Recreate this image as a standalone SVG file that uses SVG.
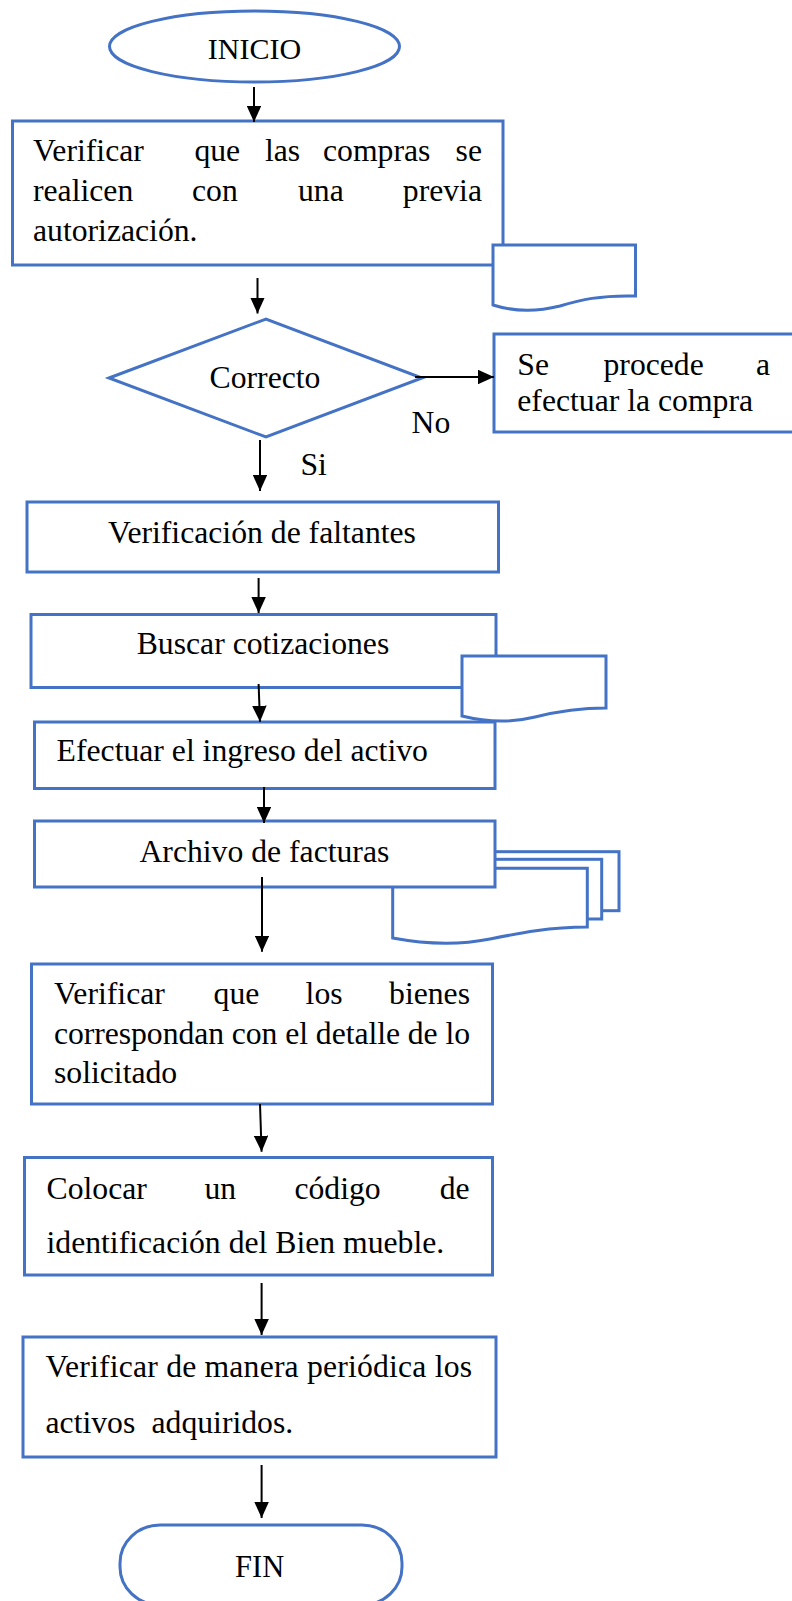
<svg xmlns="http://www.w3.org/2000/svg" width="792" height="1601" viewBox="0 0 792 1601">
<style>
.shape{fill:#fff;stroke:#4472C4;stroke-width:3}
.t{font-family:"Liberation Serif","Times New Roman",serif;font-size:31.7px;fill:#000}
.c{text-anchor:middle}
.e{text-anchor:end}
.conn line{stroke:#000;stroke-width:2}
</style>
<defs>
<marker id="arr" viewBox="0 0 16 14.5" refX="16" refY="7.25" markerWidth="16" markerHeight="14.5" markerUnits="userSpaceOnUse" orient="auto">
<path d="M0,0 L16,7.25 L0,14.5 Z" fill="#000"/>
</marker>
</defs>
<rect width="792" height="1601" fill="#fff"/>

<g id="inicio">
<ellipse class="shape" cx="254.5" cy="46.5" rx="145" ry="35.5"/>
<text class="t c" x="254.5" y="59" style="font-size:30px">INICIO</text>
</g>

<g id="verificar-compras">
<rect class="shape" x="12.5" y="121" width="490.5" height="144"/>
<text class="t" x="33" y="161">Verificar</text>
<text class="t" x="194.4" y="161">que</text>
<text class="t" x="265" y="161">las</text>
<text class="t" x="323" y="161">compras</text>
<text class="t e" x="482" y="161">se</text>
<text class="t" x="33" y="201">realicen</text>
<text class="t" x="192" y="201">con</text>
<text class="t" x="298" y="201">una</text>
<text class="t e" x="482" y="201">previa</text>
<text class="t" x="33" y="241">autorización.</text>
</g>

<g id="doc1">
<path class="shape" d="M493,245 H635.5 V296 C600,295 580,300 560,306 C540,311 515,312 493,305 Z"/>
</g>

<g id="correcto">
<polygon class="shape" points="109,378 266,319 422,378 266,437"/>
<text class="t c" x="265" y="388">Correcto</text>
</g>

<g id="efectuar-compra">
<rect class="shape" x="494" y="334" width="310" height="98"/>
<text class="t" x="517.3" y="375">Se</text>
<text class="t" x="603.5" y="375">procede</text>
<text class="t e" x="770" y="375">a</text>
<text class="t" x="517.3" y="410.7">efectuar la compra</text>
</g>

<g id="faltantes">
<rect class="shape" x="27" y="502" width="471.5" height="70"/>
<text class="t c" x="262" y="542.7">Verificación de faltantes</text>
</g>

<g id="cotizaciones">
<rect class="shape" x="31" y="614.5" width="465" height="73"/>
<text class="t c" x="263" y="654">Buscar cotizaciones</text>
</g>

<g id="doc2">
<path class="shape" d="M462,656 H606 V708 C575,708 555,712 535,717 C515,722 490,723 462,716 Z"/>
</g>

<g id="ingreso">
<rect class="shape" x="34.5" y="722" width="460.5" height="66.5"/>
<text class="t" x="56.6" y="760.7">Efectuar el ingreso del activo</text>
</g>

<g id="multidoc">
<rect class="shape" x="450" y="851.7" width="169" height="59"/>
<rect class="shape" x="440" y="859.3" width="161.7" height="59.7"/>
<path class="shape" d="M392.7,868.3 H587.3 V927 C550,927 520,933 490,939 C465,944 430,945 392.7,938 Z"/>
</g>

<g id="facturas">
<rect class="shape" x="34.5" y="821" width="460.5" height="66"/>
<text class="t c" x="264.4" y="861.7">Archivo de facturas</text>
</g>

<g id="bienes">
<rect class="shape" x="31.5" y="964" width="461" height="140"/>
<text class="t" x="54" y="1004">Verificar</text>
<text class="t" x="213.6" y="1004">que</text>
<text class="t" x="305.6" y="1004">los</text>
<text class="t e" x="470" y="1004">bienes</text>
<text class="t" x="54" y="1043.5" textLength="416" lengthAdjust="spacing">correspondan con el detalle de lo</text>
<text class="t" x="54" y="1083.3">solicitado</text>
</g>

<g id="codigo">
<rect class="shape" x="24.5" y="1157.5" width="468" height="117.5"/>
<text class="t" x="46.5" y="1198.8">Colocar</text>
<text class="t" x="204.5" y="1198.8">un</text>
<text class="t" x="294.4" y="1198.8">código</text>
<text class="t e" x="469.7" y="1198.8">de</text>
<text class="t" x="46.5" y="1253.3">identificación del Bien mueble.</text>
</g>

<g id="periodica">
<rect class="shape" x="23" y="1337" width="473" height="120"/>
<text class="t" x="45.5" y="1377.3" textLength="426.5" lengthAdjust="spacing">Verificar de manera periódica los</text>
<text class="t" x="45.5" y="1432.7">activos</text>
<text class="t" x="151.5" y="1432.7">adquiridos.</text>
</g>

<g id="fin">
<rect class="shape" x="120" y="1525" width="282" height="80" rx="40" ry="38"/>
<text class="t c" x="259.7" y="1577" style="font-size:30.5px">FIN</text>
</g>

<g id="connectors" class="conn">
<line x1="254" y1="87" x2="254" y2="122" marker-end="url(#arr)"/>
<line x1="257.5" y1="278" x2="257.5" y2="313.5" marker-end="url(#arr)"/>
<line x1="415" y1="377" x2="494" y2="377" marker-end="url(#arr)"/>
<line x1="260" y1="440" x2="260" y2="491" marker-end="url(#arr)"/>
<line x1="258.6" y1="578" x2="258.6" y2="613" marker-end="url(#arr)"/>
<line x1="258.6" y1="684" x2="260" y2="721.7" marker-end="url(#arr)"/>
<line x1="264" y1="787" x2="264" y2="823" marker-end="url(#arr)"/>
<line x1="262" y1="877" x2="262" y2="951.7" marker-end="url(#arr)"/>
<line x1="260" y1="1104" x2="261.6" y2="1151.7" marker-end="url(#arr)"/>
<line x1="261.6" y1="1283" x2="261.6" y2="1335" marker-end="url(#arr)"/>
<line x1="261.6" y1="1465" x2="261.6" y2="1518" marker-end="url(#arr)"/>
</g>

<g id="labels">
<text class="t" x="411.6" y="433">No</text>
<text class="t" x="300.5" y="475">Si</text>
</g>
</svg>
